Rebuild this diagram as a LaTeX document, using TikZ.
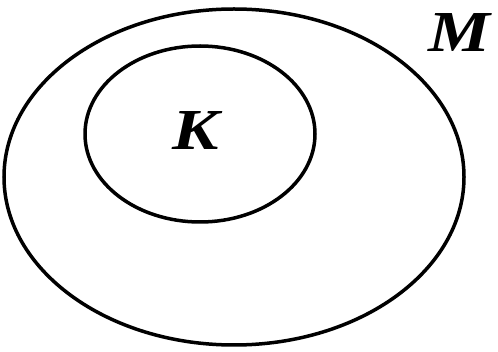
\documentclass[tikz,border=0pt]{standalone}
\usepackage{fontspec}
\setmainfont{Liberation Serif}
\begin{document}
\begin{tikzpicture}[x=1pt,y=-1pt,
  ring/.style={draw=black,line width=3.5pt},
  lbl/.style={font=\fontsize{58}{58}\selectfont\bfseries\itshape,inner sep=0pt,xscale=1.2}]
\useasboundingbox (0,0) rectangle (498,352);
\draw[ring] (234,177) ellipse [x radius=230, y radius=168];
\draw[ring] (200,134) ellipse [x radius=115, y radius=88];
\node[lbl] (K) at (196,131) {K};
\node[lbl] (M) at (459,33) {M};
\end{tikzpicture}
\end{document}
